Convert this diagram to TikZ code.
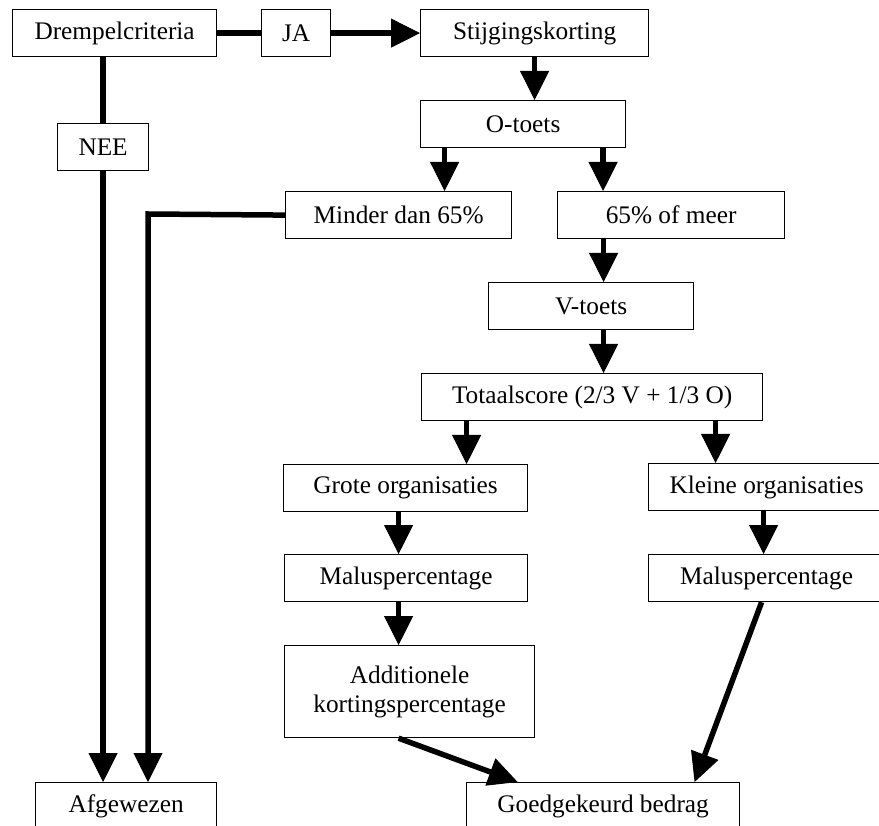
\documentclass[tikz,border=0pt]{standalone}
\usepackage{fontspec}
\setmainfont{Liberation Serif}
\usetikzlibrary{arrows.meta}
\begin{document}
\begin{tikzpicture}[x=1pt,y=-1pt,
  box/.style={draw, line width=1.2pt, rectangle, anchor=north west, inner sep=0pt,
    minimum height=47pt, font=\fontsize{25.3}{29}\selectfont, align=center},
  conn/.style={line width=5.5pt},
  arr/.style={line width=5.5pt, -{Triangle[length=29pt,width=29pt,line width=1pt]}}]
\useasboundingbox (0,0) rectangle (879,826);
\clip (0,0) rectangle (879,826);
% nodes
\node[box, minimum width=204pt] (drem) at (12,9) {Drempelcriteria};
\node[box, minimum width=69pt] (ja) at (261,9) {JA};
\node[box, minimum width=228pt] (stij) at (420,9) {Stijgingskorting};
\node[box, minimum width=205pt] (otoets) at (420,100) {O-toets};
\node[box, minimum width=91pt] (nee) at (57,123) {NEE};
\node[box, minimum width=226pt] (minder) at (285,191) {Minder dan 65\%};
\node[box, minimum width=227pt] (meer) at (557,191) {65\% of meer};
\node[box, minimum width=205pt] (vtoets) at (488,282) {V-toets};
\node[box, minimum width=341pt] (total) at (421,373) {Totaalscore (2/3 V + 1/3 O)};
\node[box, minimum width=244pt] (grote) at (283,464) {Grote organisaties};
\node[box, minimum width=236pt] (kleine) at (648,463) {Kleine organisaties};
\node[box, minimum width=243pt] (malusl) at (284,554) {Maluspercentage};
\node[box, minimum width=236pt] (malusr) at (648,554) {Maluspercentage};
\node[box, minimum width=250pt, minimum height=92pt] (add) at (284,645) {Additionele\\kortingspercentage};
\node[box, minimum width=181pt] (afg) at (35,782) {Afgewezen};
\node[box, minimum width=273pt] (good) at (466,782) {Goedgekeurd bedrag};
\coordinate (bend) at (148,214);
% connectors
\draw[conn] (drem) -- (ja);
\draw[arr] (ja) -- (stij);
\draw[conn] (drem.south -| nee.north) -- (nee.north);
\draw[arr] (nee.south) -- (nee.south |- afg.north);
\draw[arr] (minder.west) -- (bend) -- (bend |- afg.north);
\draw[arr] (stij.south) -- (stij.south |- otoets.north);
\draw[arr] ([xshift=-78.5pt]otoets.south) -- ([xshift=-78.5pt]otoets.south |- minder.north);
\draw[arr] ([xshift=80pt]otoets.south) -- ([xshift=80pt]otoets.south |- meer.north);
\draw[arr] ([xshift=-67.5pt]meer.south) -- ([xshift=-67.5pt]meer.south |- vtoets.north);
\draw[arr] ([xshift=12.5pt]vtoets.south) -- ([xshift=12.5pt]vtoets.south |- total.north);
\draw[arr] ([xshift=-125.5pt]total.south) -- ([xshift=-125.5pt]total.south |- grote.north);
\draw[arr] ([xshift=123.5pt]total.south) -- ([xshift=123.5pt]total.south |- kleine.north);
\draw[arr] ([xshift=-7pt]grote.south) -- ([xshift=-7pt]grote.south |- malusl.north);
\draw[arr] ([xshift=-7.5pt]malusl.south) -- ([xshift=-7.5pt]malusl.south |- add.north);
\draw[arr] ([xshift=-3pt]kleine.south) -- ([xshift=-3pt]kleine.south |- malusr.north);
\draw[arr] ([xshift=-11pt]add.south) -- ([xshift=-85.5pt]good.north);
\draw[arr] ([xshift=-5pt]malusr.south) -- ([xshift=91.5pt]good.north);
\end{tikzpicture}
\end{document}
